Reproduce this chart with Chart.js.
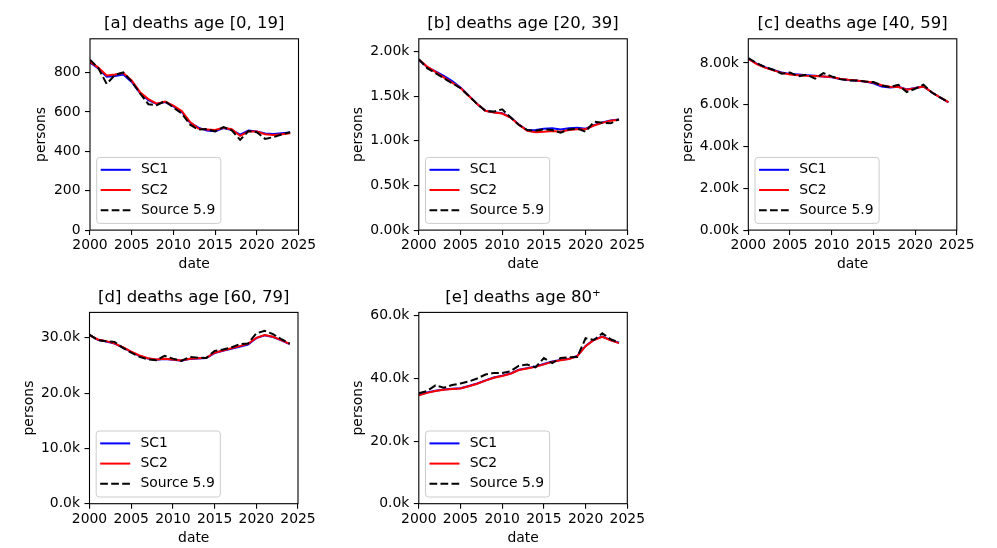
<!DOCTYPE html>
<html>
<head>
<meta charset="utf-8">
<script src="https://cdn.jsdelivr.net/npm/chart.js@4.4.1/dist/chart.umd.min.js"></script>
<style>
  html, body { margin: 0; padding: 0; background: #fff; }
  body { width: 997px; height: 548px; position: relative; overflow: hidden; }
  canvas { position: absolute; }
</style>
</head>
<body>
<canvas id="pa"></canvas>
<canvas id="pb"></canvas>
<canvas id="pc"></canvas>
<canvas id="pd"></canvas>
<canvas id="pe"></canvas>
<script>
// ===== Data =====
const years = [2000, 2001, 2002, 2003, 2004, 2005, 2006, 2007, 2008, 2009, 2010, 2011, 2012,
               2013, 2014, 2015, 2016, 2017, 2018, 2019, 2020, 2021, 2022, 2023, 2024];
const seriesNames = ['SC1', 'SC2', 'Source 5.9'];
const xTicks = [2000, 2005, 2010, 2015, 2020, 2025];

// [a] age 0-19
const aSc1 = [850, 820, 778, 782, 790, 752, 695, 660, 640, 650, 628, 600, 545, 520, 505, 502, 518, 508, 485, 505, 500, 490, 488, 492, 495];
const aSc2 = [855, 825, 785, 790, 797, 760, 700, 665, 642, 652, 632, 605, 548, 515, 510, 508, 520, 512, 478, 500, 500, 487, 483, 487, 492];
const aSrc = [865, 822, 742, 788, 800, 754, 694, 639, 634, 655, 622, 592, 535, 510, 513, 501, 523, 506, 458, 503, 497, 463, 472, 486, 497];
// [b] age 20-39
const bSc1 = [1905, 1825, 1775, 1725, 1668, 1595, 1505, 1412, 1335, 1318, 1308, 1262, 1182, 1118, 1120, 1135, 1140, 1125, 1140, 1145, 1135, 1175, 1205, 1228, 1238];
const bSc2 = [1910, 1830, 1770, 1710, 1650, 1590, 1500, 1410, 1335, 1315, 1305, 1260, 1180, 1110, 1095, 1100, 1110, 1100, 1120, 1130, 1130, 1170, 1200, 1225, 1235];
const bSrc = [1914, 1813, 1757, 1700, 1644, 1588, 1502, 1412, 1333, 1326, 1352, 1262, 1176, 1120, 1112, 1127, 1120, 1090, 1127, 1138, 1101, 1213, 1202, 1195, 1240];
// [c] age 40-59
const cSc1 = [8210, 7970, 7800, 7670, 7550, 7480, 7450, 7420, 7390, 7360, 7320, 7240, 7190, 7150, 7110, 7030, 6880, 6830, 6860, 6730, 6800, 6880, 6600, 6350, 6120];
const cSc2 = [8200, 7950, 7780, 7650, 7530, 7450, 7420, 7390, 7380, 7360, 7330, 7250, 7200, 7160, 7120, 7070, 6940, 6870, 6850, 6720, 6790, 6880, 6600, 6350, 6130];
const cSrc = [8240, 8000, 7810, 7680, 7490, 7550, 7360, 7440, 7250, 7520, 7360, 7230, 7170, 7170, 7120, 7090, 6930, 6850, 6960, 6610, 6770, 6960, 6590, 6350, 6130];
// [d] age 60-79
const dSc1 = [30480, 29650, 29350, 28950, 28250, 27450, 26700, 26250, 26050, 26150, 26050, 25850, 26150, 26250, 26350, 27250, 27650, 28000, 28400, 28800, 29950, 30450, 30150, 29550, 28850];
const dSc2 = [30500, 29700, 29400, 29000, 28300, 27500, 26800, 26300, 26100, 26200, 26100, 25900, 26200, 26300, 26400, 27300, 27700, 28100, 28500, 28900, 30000, 30500, 30200, 29600, 28900];
const dSrc = [30600, 29580, 29400, 29270, 28180, 27330, 26550, 26120, 25940, 26730, 26240, 25820, 26550, 26420, 26360, 27640, 27880, 28240, 28850, 28970, 30790, 31270, 30670, 29760, 28970];
// [e] age 80+
const eSc1 = [34700, 35500, 36100, 36500, 36700, 36900, 37600, 38400, 39400, 40300, 40900, 41600, 42800, 43300, 43800, 44600, 45400, 45900, 46300, 47200, 50400, 52400, 53400, 52300, 51400];
const eSc2 = [34600, 35400, 36000, 36400, 36600, 36800, 37500, 38300, 39300, 40200, 40800, 41500, 42700, 43200, 43700, 44500, 45300, 45800, 46200, 47100, 50300, 52300, 53300, 52200, 51300];
const eSrc = [35260, 36000, 37780, 37040, 37890, 38420, 39050, 40000, 41260, 41780, 41780, 42310, 44100, 44420, 43570, 46520, 44940, 46520, 46730, 46840, 52840, 52310, 54420, 52520, 51470];

// y tick labels per panel
const aYTicks = [0, 200, 400, 600, 800];
const bYTicks = [0, 500, 1000, 1500, 2000];
const cYTicks = [0, 2000, 4000, 6000, 8000];
const dYTicks = [0, 10000, 20000, 30000];
const eYTicks = [0, 20000, 40000, 60000];

// ===== Layout / style =====
const FONT = 'DejaVu Sans';
const AXES_W = 208.5;
const AXES_H = 191.3;
const TITLE_BOX = 40;   // space above the axes for the title
const XAXIS_H = 43;     // tick labels + "date"

const fmtPlain = v => String(v);
const fmtK2 = v => (v / 1000).toFixed(2) + 'k';
const fmtK1 = v => (v / 1000).toFixed(1) + 'k';

const panels = [
    { id: 'pa', title: '[a] deaths age [0, 19]', left: 90,    top: 38.8,  ylab: 41.7,  max: 971,   ticks: aYTicks, fmt: fmtPlain, data: [aSc1, aSc2, aSrc] },
    { id: 'pb', title: '[b] deaths age [20, 39]', left: 418.8, top: 38.8,  ylab: 358.6, max: 2141,  ticks: bYTicks, fmt: fmtK2,    data: [bSc1, bSc2, bSrc] },
    { id: 'pc', title: '[c] deaths age [40, 59]', left: 748.3, top: 38.8,  ylab: 688,   max: 9161,  ticks: cYTicks, fmt: fmtK2,    data: [cSc1, cSc2, cSrc] },
    { id: 'pd', title: '[d] deaths age [60, 79]', left: 89.5,  top: 312.4, ylab: 29,    max: 34600, ticks: dYTicks, fmt: fmtK1,    data: [dSc1, dSc2, dSrc] },
    { id: 'pe', title: '[e] deaths age 80\u207A', left: 418.8, top: 312.4, ylab: 358.3, max: 61100, ticks: eYTicks, fmt: fmtK1,    data: [eSc1, eSc2, eSrc] }
];

const lineStyles = [
    { borderColor: '#0000ff', borderDash: [], order: 2 },
    { borderColor: '#ff0000', borderDash: [], order: 1 },
    { borderColor: '#000000', borderDash: [7.7, 3.3], order: 0 }
];

Chart.defaults.font.family = FONT;
Chart.defaults.color = '#000';

// ===== Frame (all four spines) + title centred over the axes =====
const frame = {
    id: 'frame',
    afterDatasetsDraw(chart, args, opts) {
        const { ctx, chartArea: a } = chart;
        ctx.save();
        ctx.strokeStyle = '#000';
        ctx.lineWidth = 1.1;
        ctx.strokeRect(a.left, a.top, a.right - a.left, a.bottom - a.top);
        ctx.font = '16.5px "' + FONT + '"';
        ctx.fillStyle = '#000';
        ctx.textAlign = 'center';
        ctx.textBaseline = 'middle';
        ctx.fillText(opts.text, (a.left + a.right) / 2, a.top - 15);
        ctx.restore();
    }
};

// ===== Legend box in the lower left corner =====
const boxLegend = {
    id: 'boxLegend',
    afterDatasetsDraw(chart) {
        const { ctx, chartArea: a } = chart;
        const ds = chart.data.datasets;
        ctx.save();
        ctx.font = '13.9px "' + FONT + '"';
        const tw = Math.max(...ds.map(d => ctx.measureText(d.label).width));
        const w = 44.3 + tw + 5.6;
        const h = 66;
        const x = a.left + 6.7;
        const y = a.bottom - 6.7 - h;
        ctx.beginPath();
        ctx.roundRect(x, y, w, h, 3);
        ctx.fillStyle = 'rgba(255,255,255,0.8)';
        ctx.fill();
        ctx.strokeStyle = '#cccccc';
        ctx.lineWidth = 1;
        ctx.stroke();
        ds.forEach((d, i) => {
            const cy = y + 12.4 + i * 20.2;
            ctx.beginPath();
            ctx.setLineDash(d.borderDash);
            ctx.strokeStyle = d.borderColor;
            ctx.lineWidth = d.borderWidth;
            ctx.moveTo(x + 4, cy);
            ctx.lineTo(x + 34, cy);
            ctx.stroke();
            ctx.setLineDash([]);
            ctx.fillStyle = '#000';
            ctx.textBaseline = 'middle';
            ctx.textAlign = 'left';
            ctx.fillText(d.label, x + 44.3, cy);
        });
        ctx.restore();
    }
};

const tickGrid = { drawOnChartArea: false, drawTicks: true, tickLength: 5, color: '#000', lineWidth: 1.1 };

panels.forEach(p => {
    const canvas = document.getElementById(p.id);
    const cl = Math.round(p.ylab - 8.3);
    const ct = Math.floor(p.top - TITLE_BOX);
    const yW = p.left - cl;
    const cw = Math.round(yW + AXES_W + 26);
    const padTop = p.top - ct;
    const ch = Math.round(padTop + AXES_H + XAXIS_H);
    const padRight = cw - yW - AXES_W;
    const padBottom = ch - padTop - AXES_H - XAXIS_H;
    canvas.style.left = cl + 'px';
    canvas.style.top = ct + 'px';
    canvas.width = cw;
    canvas.height = ch;
    canvas.style.width = cw + 'px';
    canvas.style.height = ch + 'px';

    new Chart(canvas, {
        type: 'line',
        data: {
            datasets: p.data.map((vals, i) => ({
                label: seriesNames[i],
                data: years.map((yr, k) => ({ x: yr, y: vals[k] })),
                borderColor: lineStyles[i].borderColor,
                borderDash: lineStyles[i].borderDash,
                order: lineStyles[i].order,
                borderWidth: 2,
                pointRadius: 0,
                tension: 0,
                fill: false
            }))
        },
        options: {
            responsive: false,
            animation: false,
            layout: { padding: { left: 0, top: padTop, right: padRight, bottom: padBottom } },
            plugins: {
                legend: { display: false },
                tooltip: { enabled: false },
                title: { display: false },
                frame: { text: p.title }
            },
            scales: {
                x: {
                    type: 'linear',
                    min: xTicks[0],
                    max: xTicks[xTicks.length - 1],
                    afterBuildTicks: s => { s.ticks = xTicks.map(v => ({ value: v })); },
                    ticks: { callback: v => String(v), font: { size: 13.9 }, color: '#000', padding: 2, maxRotation: 0, autoSkip: false },
                    grid: tickGrid,
                    border: { display: false },
                    title: { display: true, text: 'date', font: { size: 13.9 }, color: '#000', padding: 0 },
                    afterFit: s => { s.height = XAXIS_H; }
                },
                y: {
                    min: 0,
                    max: p.max,
                    afterBuildTicks: s => { s.ticks = p.ticks.map(v => ({ value: v })); },
                    ticks: { callback: p.fmt, font: { size: 13.9 }, color: '#000', padding: 4.5, autoSkip: false },
                    grid: tickGrid,
                    border: { display: false },
                    title: { display: true, text: 'persons', font: { size: 13.9 }, color: '#000', padding: 0 },
                    afterFit: s => { s.width = yW; }
                }
            }
        },
        plugins: [frame, boxLegend]
    });
});
</script>
</body>
</html>
